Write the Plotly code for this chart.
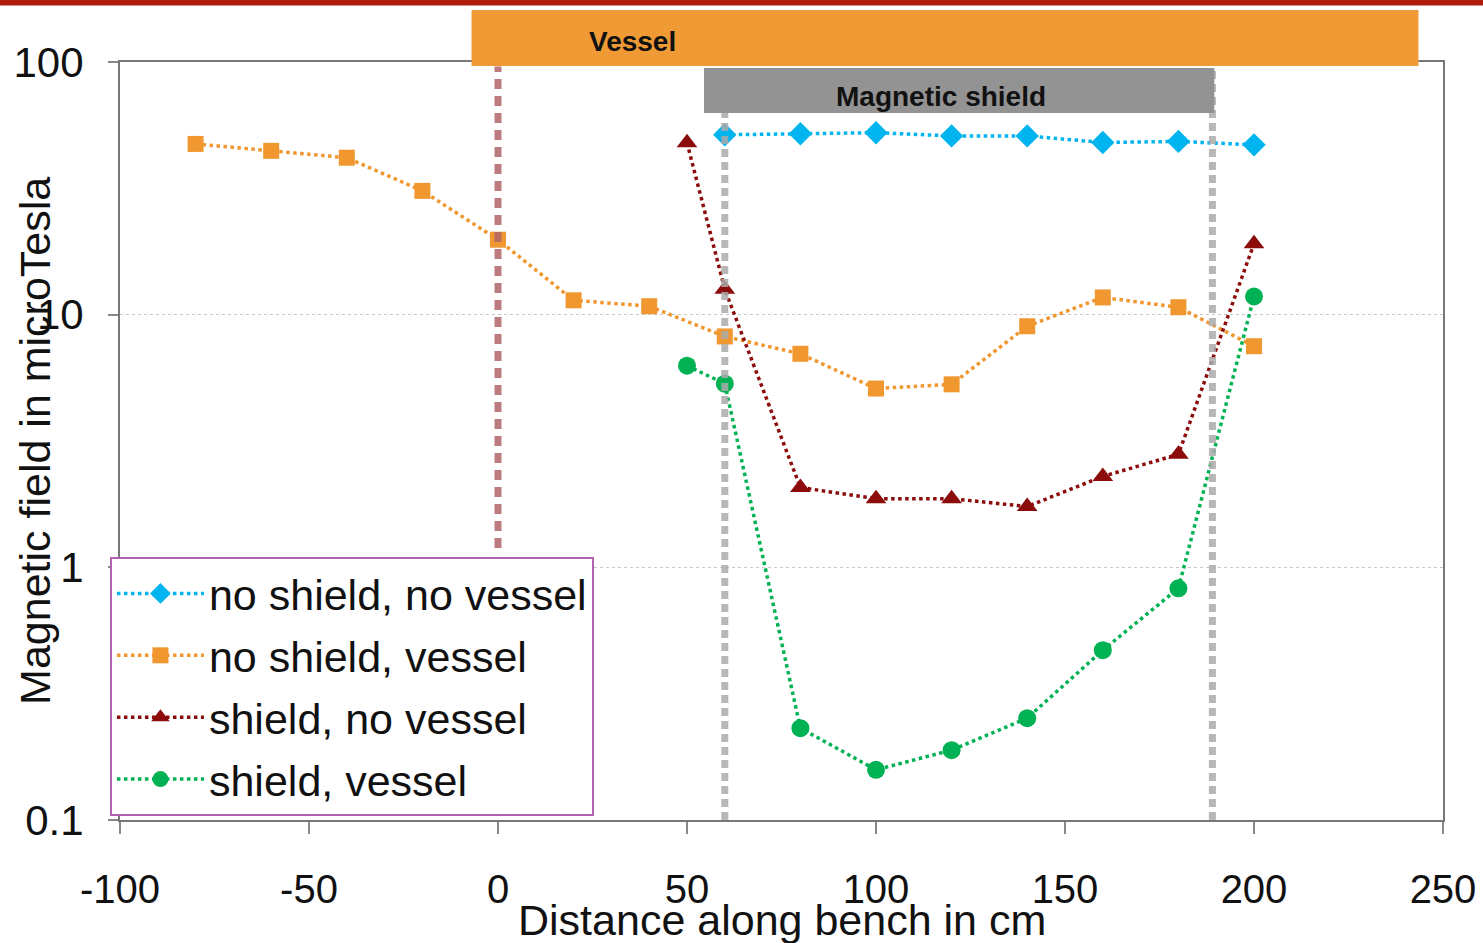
import plotly.graph_objects as go

# ---- data ----
x_blue = [60, 80, 100, 120, 140, 160, 180, 200]
y_blue = [51.5, 52, 52.5, 51, 51, 48, 48.5, 47]

x_orange = [-80, -60, -40, -20, 0, 20, 40, 60, 80, 100, 120, 140, 160, 180, 200]
y_orange = [47.4, 44.5, 41.8, 30.9, 19.8, 11.4, 10.8, 8.2, 7.0, 5.1, 5.3, 9.0, 11.7, 10.7, 7.5]

x_red = [50, 60, 80, 100, 120, 140, 160, 180, 200]
y_red = [47.9, 12.6, 2.07, 1.87, 1.87, 1.74, 2.29, 2.80, 19.1]

x_green = [50, 60, 80, 100, 120, 140, 160, 180, 200]
y_green = [6.28, 5.33, 0.231, 0.158, 0.189, 0.253, 0.47, 0.826, 11.8]

names = ["no shield, no vessel", "no shield, vessel", "shield, no vessel", "shield, vessel"]
x_ticks = [-100, -50, 0, 50, 100, 150, 200, 250]
x_ticklabels = ["-100", "-50", "0", "50", "100", "150", "200", "250"]
y_ticks = [0.1, 1, 10, 100]
y_ticklabels = ["0.1", "1", "10", "100"]

vessel_range = [-7, 243.5]
shield_range = [54.5, 189.5]
vessel_start_line = 0
shield_lines = [60, 189]

# ---- figure ----
FONT = "Liberation Sans, Arial, sans-serif"
fig = go.Figure()

series = [
    (x_blue, y_blue, "#00b5ef", "diamond", 18),
    (x_orange, y_orange, "#f0972f", "square", 16),
    (x_red, y_red, "#8c0b0b", "triangle-up", 18),
    (x_green, y_green, "#00b253", "circle", 18),
]
for i, (xs, ys, col, sym, sz) in enumerate(series):
    fig.add_trace(go.Scatter(
        x=xs, y=ys, name=names[i], mode="lines+markers",
        legendgroup=f"g{i}",
        line=dict(color=col, width=3.5, dash="dot"),
        marker=dict(color=col, symbol=sym, size=sz),
    ))

shapes = []
for sx in shield_lines:
    shapes.append(dict(type="line", xref="x", yref="paper", x0=sx, x1=sx, y0=0, y1=0.99,
                       line=dict(color="rgba(170,170,170,0.85)", width=7, dash="8px,5px"),
                       layer="above"))
shapes.append(dict(type="line", xref="x", yref="paper", x0=vessel_start_line, x1=vessel_start_line,
                   y0=0.359, y1=0.994,
                   line=dict(color="rgba(175,100,105,0.85)", width=7, dash="10px,7px"),
                   layer="above"))
shapes.append(dict(type="rect", xref="x", yref="paper", x0=shield_range[0], x1=shield_range[1],
                   y0=0.9327, y1=0.9921, fillcolor="#939393", line=dict(width=0), layer="above"))
shapes.append(dict(type="rect", xref="x", yref="paper", x0=vessel_range[0], x1=vessel_range[1],
                   y0=0.9947, y1=1.0686, fillcolor="#f09a36", line=dict(width=0), layer="above"))
shapes.append(dict(type="rect", xref="paper", yref="paper", x0=-0.1, x1=1.05,
                   y0=1.0745, y1=1.095, fillcolor="#b01a0c", line=dict(width=0), layer="above"))

fig.update_layout(
    width=1483, height=943,
    margin=dict(l=120, r=40, t=62, b=123, autoexpand=False),
    paper_bgcolor="white", plot_bgcolor="white",
    font=dict(family=FONT, size=42, color="#111"),
    shapes=shapes,
    showlegend=True,
    legend=dict(
        x=-0.0076, y=0.347, xanchor="left", yanchor="top",
        bgcolor="white", bordercolor="#b064b0", borderwidth=2,
        font=dict(family=FONT, size=43, color="#111"),
        itemwidth=87, traceorder="grouped", tracegroupgap=3,
    ),
    annotations=[
        dict(text="<b>Vessel</b>", x=35.7, y=1.0264, xref="x", yref="paper",
             xanchor="center", yanchor="middle",
             showarrow=False, font=dict(family=FONT, size=28, color="#111")),
        dict(text="<b>Magnetic shield</b>", x=117.2, y=0.955, xref="x", yref="paper",
             xanchor="center", yanchor="middle",
             showarrow=False, font=dict(family=FONT, size=28, color="#111")),
        dict(text="Distance along bench in cm", x=0.5, y=-0.132, xref="paper", yref="paper",
             xanchor="center", yanchor="middle", showarrow=False,
             font=dict(family=FONT, size=43, color="#111")),
        dict(text="Magnetic field in microTesla", x=-0.0643, y=0.5, xref="paper", yref="paper",
             xanchor="center", yanchor="middle", textangle=-90, showarrow=False,
             font=dict(family=FONT, size=43, color="#111")),
    ],
)

fig.update_xaxes(
    range=[-100, 250], tickvals=x_ticks, ticktext=x_ticklabels, ticks="outside",
    ticklen=12, tickwidth=2, automargin=False,
    tickcolor="#888", showline=True, linecolor="#777", linewidth=2, mirror=True,
    showgrid=False, zeroline=False, ticklabelstandoff=21,
    tickfont=dict(family=FONT, size=40, color="#111"),
)
fig.update_yaxes(
    type="log", range=[-1, 2], tickvals=y_ticks, ticktext=y_ticklabels, automargin=False,
    ticks="outside", ticklen=10, tickwidth=2, tickcolor="#888",
    showline=True, linecolor="#777", linewidth=2, mirror=True,
    showgrid=True, gridcolor="#c8c8c8", gridwidth=1, griddash="dot",
    zeroline=False, ticklabelstandoff=16,
    tickfont=dict(family=FONT, size=42, color="#111"),
)

fig.write_html(
    "out.html",
    config={"displayModeBar": False},
    post_script="document.body.style.margin='0';document.body.style.overflow='hidden';",
)
